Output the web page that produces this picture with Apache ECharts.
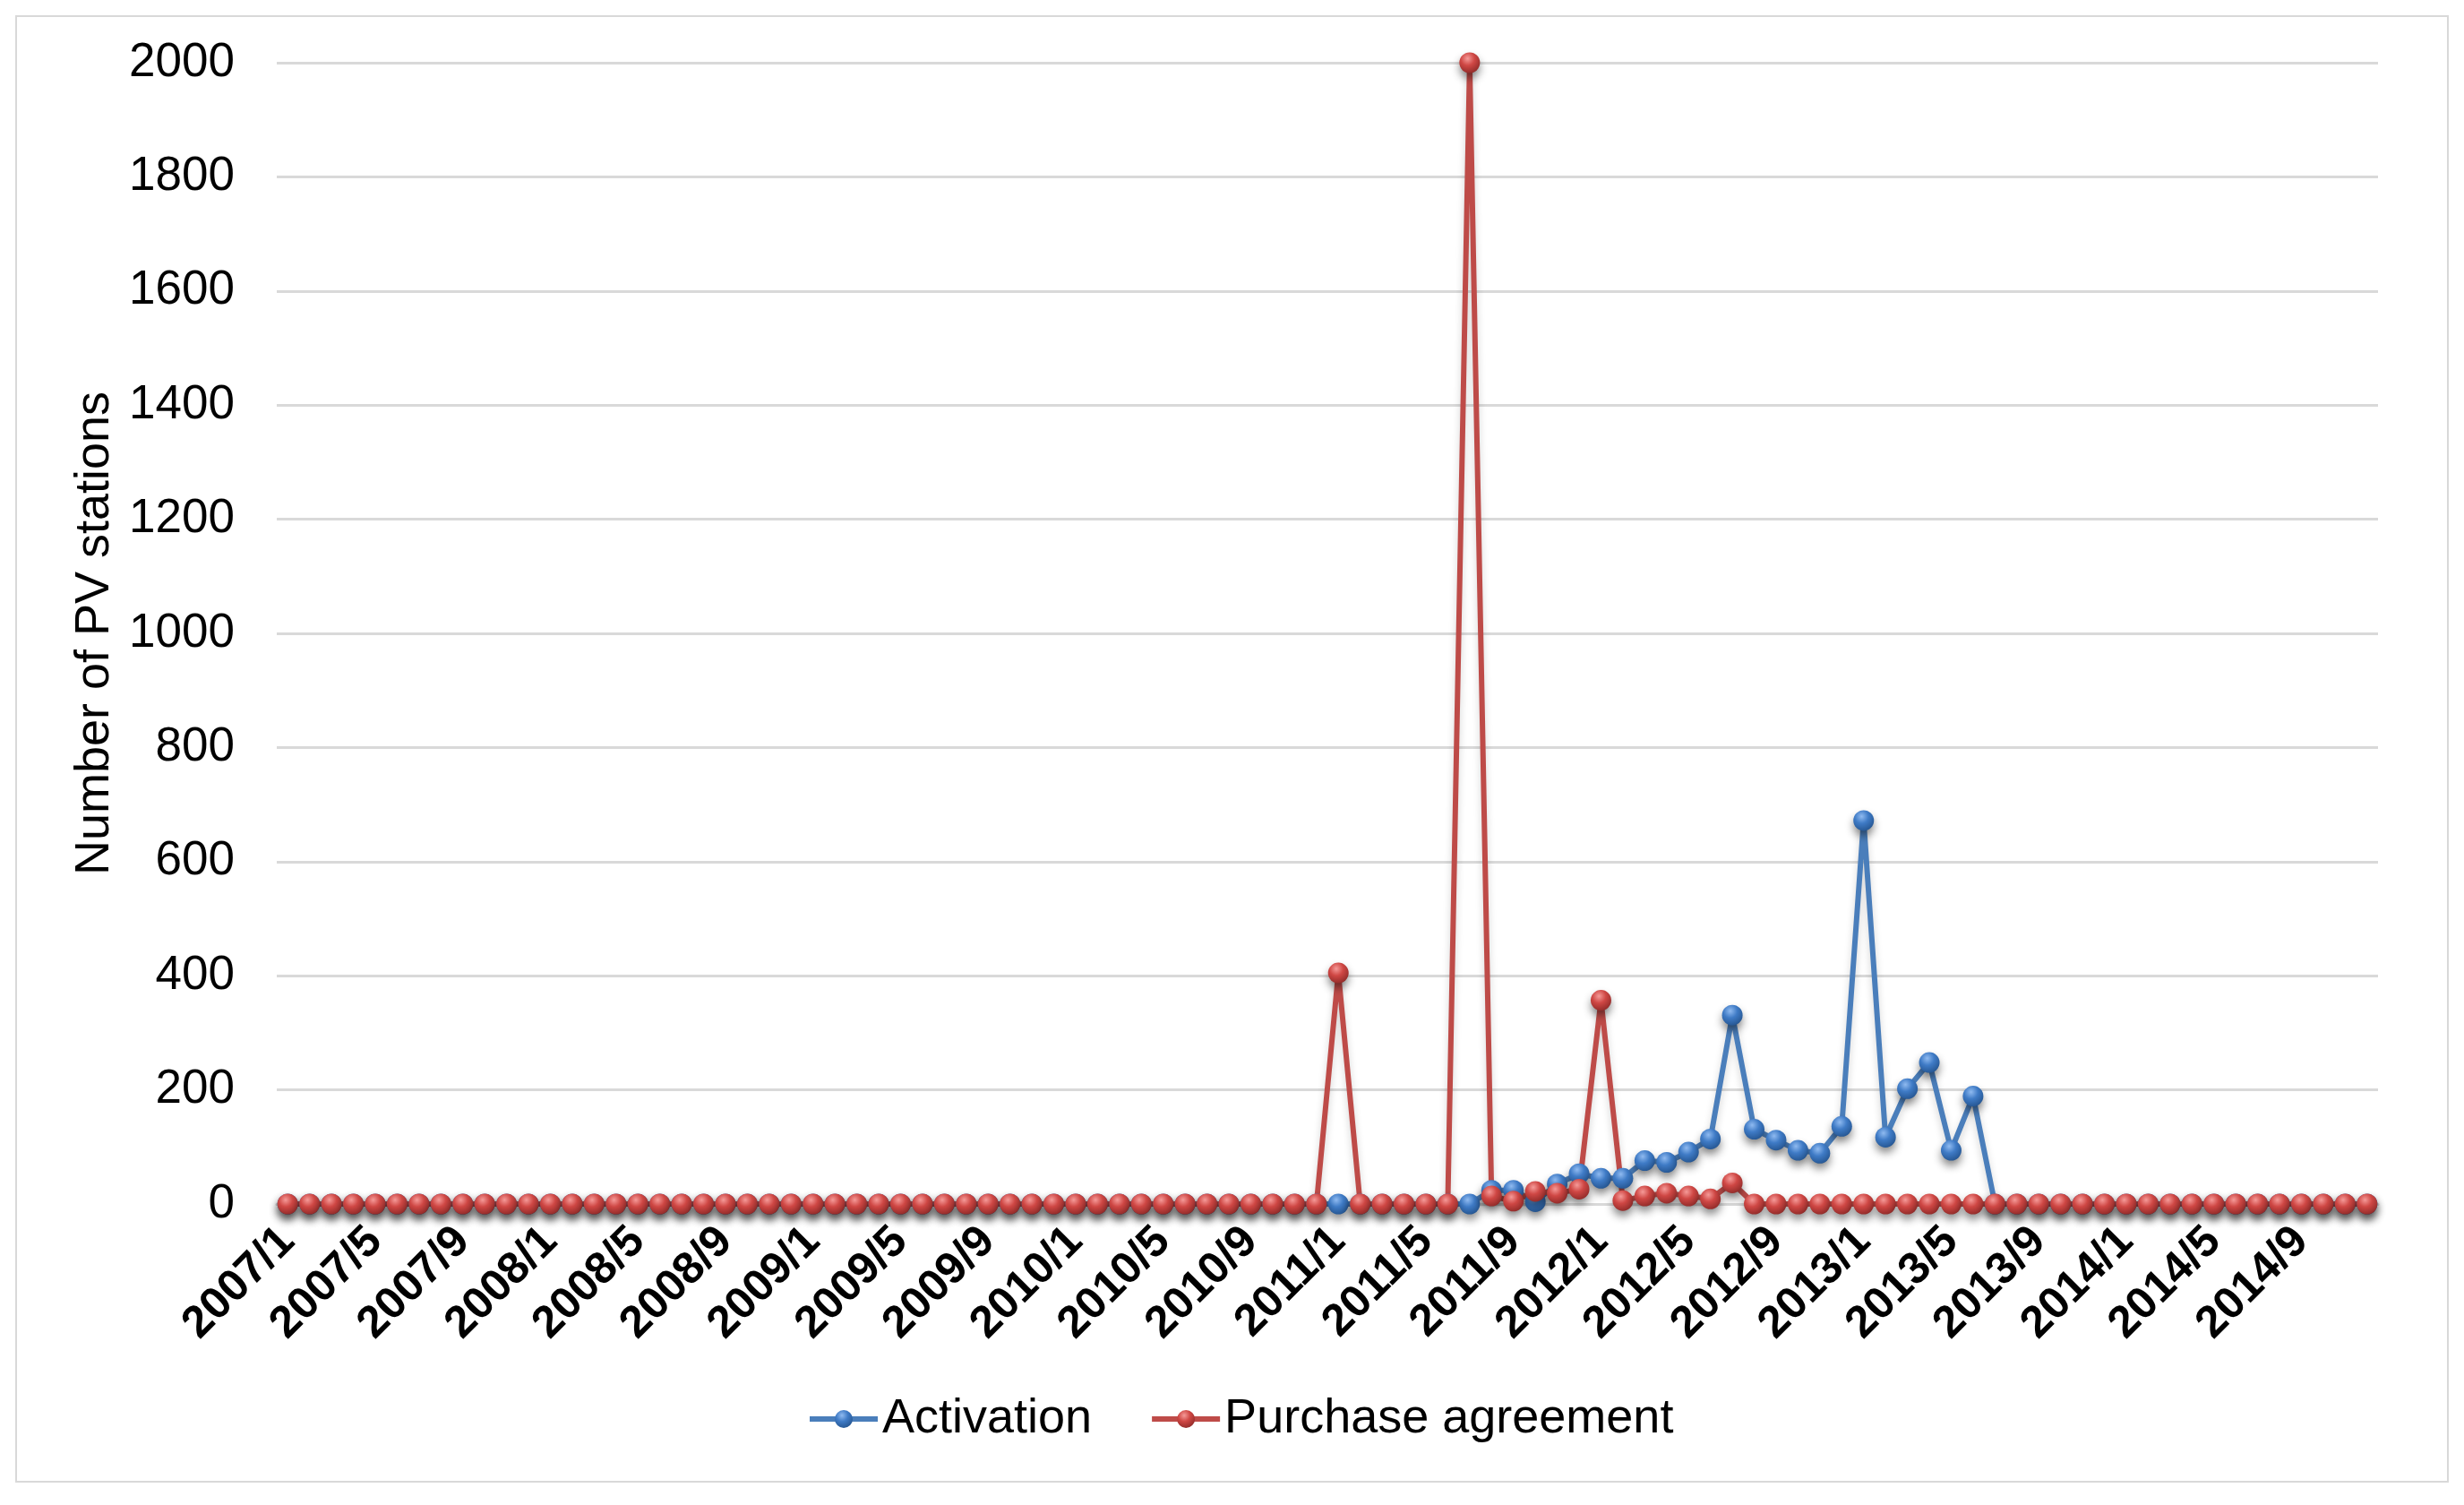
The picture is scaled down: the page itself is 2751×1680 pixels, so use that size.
<!DOCTYPE html>
<html>
<head>
<meta charset="utf-8">
<script src="https://cdn.jsdelivr.net/npm/echarts@6/dist/echarts.min.js"></script>
<style>
  html, body { margin: 0; padding: 0; background: #ffffff; }
  #wrap { position: relative; width: 2751px; height: 1680px; }
  #chart { position: absolute; left: 0; top: 0; width: 2751px; height: 1680px; }
  #frame { position: absolute; left: 17px; top: 17px; width: 2713px; height: 1634px;
           border: 2px solid #d9d9d9; pointer-events: none; }
</style>
</head>
<body>
<div id="wrap"><div id="chart"></div><div id="frame"></div></div>
<script>
// ---- data ----
var years = [2007, 2008, 2009, 2010, 2011, 2012, 2013, 2014];
var categories = [];
years.forEach(function (y) { for (var m = 1; m <= 12; m++) categories.push(y + '/' + m); });

var seriesNames = ['Activation', 'Purchase agreement'];

// 2007/1 .. 2014/12 (96 months)
var activation = [
  0,0,0,0,0,0,0,0,0,0,0,0,          // 2007
  0,0,0,0,0,0,0,0,0,0,0,0,          // 2008
  0,0,0,0,0,0,0,0,0,0,0,0,          // 2009
  0,0,0,0,0,0,0,0,0,0,0,0,          // 2010
  0,0,0,0,0,0,0,24,24,4,35,53,      // 2011
  45,45,76,73,91,114,331,131,112,94,89,136, // 2012
  672,117,202,248,94,189,0,0,0,0,0,0,       // 2013
  0,0,0,0,0,0,0,0,0,0,0,0           // 2014
];
var purchaseAgreement = [
  0,0,0,0,0,0,0,0,0,0,0,0,          // 2007
  0,0,0,0,0,0,0,0,0,0,0,0,          // 2008
  0,0,0,0,0,0,0,0,0,0,0,0,          // 2009
  0,0,0,0,0,0,0,0,0,0,0,0,          // 2010
  405,0,0,0,0,0,2000,14,5,22,19,26, // 2011
  357,6,14,19,14,9,37,0,0,0,0,0,    // 2012
  0,0,0,0,0,0,0,0,0,0,0,0,          // 2013
  0,0,0,0,0,0,0,0,0,0,0,0           // 2014
];

var yMin = 0, yMax = 2000, yStep = 200;
var yTitle = 'Number of PV stations';

// ---- styles ----
var FONT = '"Liberation Sans", Arial, sans-serif';
function ball(light, mid, dark) {
  return new echarts.graphic.RadialGradient(0.4, 0.3, 0.75, [
    { offset: 0, color: light },
    { offset: 0.45, color: mid },
    { offset: 1, color: dark }
  ]);
}
var blueLine = '#4a7ebb', redLine = '#be4b48';

function mkSeries(name, data, lineColor, markerFill) {
  return {
    name: name,
    type: 'line',
    data: data,
    symbol: 'circle',
    symbolSize: 23,
    showAllSymbol: true,
    lineStyle: { color: lineColor, width: 6,
                 shadowColor: 'rgba(0,0,0,0.18)', shadowBlur: 8, shadowOffsetY: 5 },
    itemStyle: { color: markerFill, borderWidth: 0,
                 shadowColor: 'rgba(0,0,0,0.45)', shadowBlur: 10, shadowOffsetY: 6 },
    emphasis: { disabled: true },
    animation: false
  };
}

var chart = echarts.init(document.getElementById('chart'), null, { renderer: 'canvas' });
chart.setOption({
  backgroundColor: '#ffffff',
  animation: false,
  grid: { left: 309, right: 96, top: 70, bottom: 336, containLabel: false },
  legend: {
    data: seriesNames,
    left: 896,
    top: 1552,
    itemWidth: 76,
    itemHeight: 25,
    itemGap: 64,
    lineStyle: { width: 6 },
    textStyle: { fontFamily: FONT, fontSize: 54, color: '#000000' }
  },
  xAxis: {
    type: 'category',
    data: categories,
    boundaryGap: true,
    axisLine: { show: true, lineStyle: { color: '#d9d9d9', width: 3 } },
    axisTick: { show: false },
    axisLabel: {
      interval: 3,
      rotate: 45,
      margin: 34,
      fontFamily: FONT,
      fontSize: 50,
      fontWeight: 'bold',
      color: '#000000'
    },
    splitLine: { show: false }
  },
  yAxis: {
    type: 'value',
    min: yMin, max: yMax, interval: yStep,
    name: yTitle,
    nameLocation: 'middle',
    nameGap: 166,
    nameTextStyle: { fontFamily: FONT, fontSize: 54, color: '#000000' },
    axisLine: { show: false },
    axisTick: { show: false },
    axisLabel: { margin: 47, fontFamily: FONT, fontSize: 53, color: '#000000',
                 formatter: function (v) { return String(v); } },
    splitLine: { show: true, lineStyle: { color: '#d9d9d9', width: 3 } }
  },
  series: [
    mkSeries(seriesNames[0], activation, blueLine, ball('#8fbaf0', '#3f7bc6', '#24548f')),
    mkSeries(seriesNames[1], purchaseAgreement, redLine, ball('#f59a98', '#cf4744', '#8e2a28'))
  ]
});
</script>
</body>
</html>
